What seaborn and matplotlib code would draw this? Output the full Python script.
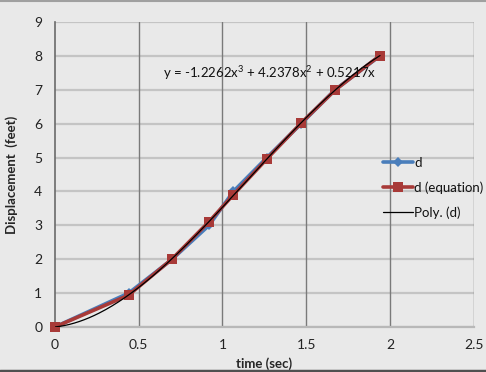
import matplotlib
matplotlib.use("Agg")
import matplotlib.pyplot as plt
import numpy as np
import pandas as pd
import seaborn as sns
from matplotlib.lines import Line2D

# ---- data ----
time_sec = [0.0, 0.44, 0.70, 0.92, 1.065, 1.265, 1.47, 1.672, 1.94]
d_measured = [0, 1, 2, 3, 4, 5, 6, 7, 8]
d_equation = [0, 0.94, 2.01, 3.11, 3.90, 4.96, 6.02, 6.99, 8.01]
# trendline coefficients shown on chart (x^3, x^2, x, const)
poly_coef = [-1.2262, 4.2378, 0.5217, 0.0]
x_ticks = [0, 0.5, 1, 1.5, 2, 2.5]
y_ticks = [0, 1, 2, 3, 4, 5, 6, 7, 8, 9]
eq_label = r"y = -1.2262x$\mathregular{^3}$ + 4.2378x$\mathregular{^2}$ + 0.5217x"

sns.set_style("white")
plt.rcParams['font.family'] = ['Lato', 'DejaVu Sans']

bg = "#e9e9e9"
fig = plt.figure(figsize=(4.86, 3.72), dpi=100, facecolor=bg)
ax = fig.add_axes([0.113, 0.121, 0.862, 0.820])
ax.set_facecolor(bg)

df = pd.DataFrame({"t": time_sec, "d": d_measured, "de": d_equation})

# grid
for y in y_ticks:
    ax.axhline(y, color="#c4c4c4", lw=1.6, zorder=0)
for x in x_ticks[1:]:
    ax.axvline(x, color="#7a7a7a", lw=1.0, zorder=0)

sns.lineplot(data=df, x="t", y="d", ax=ax, color="#4a7ebb", lw=2.6,
             marker="D", markersize=5, markeredgewidth=0, label="d",
             sort=False, zorder=3, clip_on=False)
sns.lineplot(data=df, x="t", y="de", ax=ax, color="#a83a38", lw=2.6,
             marker="s", markersize=7.5, markeredgewidth=0, label="d (equation)",
             sort=False, zorder=4, clip_on=False)

tt = np.linspace(0, max(time_sec), 200)
pp = np.polyval(poly_coef, tt)
sns.lineplot(x=tt, y=pp, ax=ax, color="black", lw=0.9, label="Poly. (d)",
             sort=False, zorder=5)

ax.set_xlim(0, 2.5)
ax.set_ylim(0, 9)
ax.set_xticks(x_ticks)
ax.set_xticklabels(["0", "0.5", "1", "1.5", "2", "2.5"])
ax.set_yticks(y_ticks)
ax.tick_params(axis="both", direction="inout", length=6, width=1,
               color="#7a7a7a", labelsize=10, labelcolor="#222222")
ax.tick_params(axis="x", pad=6)
ax.tick_params(axis="y", pad=6)
for s in ["top", "right"]:
    ax.spines[s].set_visible(False)
ax.spines["left"].set_color("#6a6a6a")
ax.spines["left"].set_linewidth(1.2)
ax.spines["bottom"].set_color("#b8b8b8")
ax.spines["bottom"].set_linewidth(1.6)
for sp in ax.spines.values():
    sp.set_zorder(1)

ax.set_xlabel("time (sec)", fontsize=9.5, fontweight="bold", labelpad=4)
ax.set_ylabel("Displacement  (feet)", fontsize=9.5, fontweight="bold", labelpad=12)

ax.text(0.645, 7.5, eq_label, fontsize=9.5, color="#111111", zorder=6,
        va="center")

leg = ax.legend(loc="upper left", bbox_to_anchor=(0.77, 0.575), frameon=False,
                fontsize=9.5, handlelength=2.3, labelspacing=0.95,
                handletextpad=0.1, borderaxespad=0)
for t in leg.get_texts():
    t.set_color("#111111")

# figure border lines
fig.add_artist(Line2D([0, 1], [0.997, 0.997], transform=fig.transFigure,
                      color="#a0a0a0", lw=1.5))
fig.add_artist(Line2D([0, 1], [0.004, 0.004], transform=fig.transFigure,
                      color="#505050", lw=2.5))

fig.savefig("out.png", dpi=100, facecolor=bg)
